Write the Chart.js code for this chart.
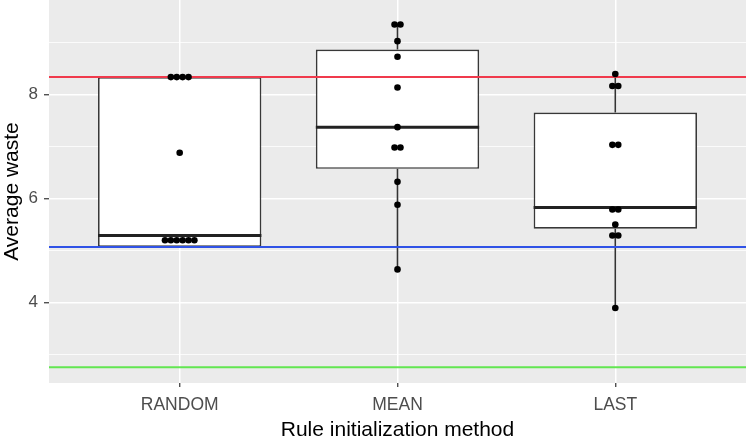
<!DOCTYPE html>
<html><head><meta charset="utf-8">
<script src="https://cdn.jsdelivr.net/npm/chart.js@4.4.1/dist/chart.umd.min.js"></script>
<style>html,body{margin:0;padding:0;background:#fff}canvas{display:block}</style>
</head><body>
<canvas id="c" width="750" height="439"></canvas>
<script>
// ---- data ----
const categories = ['RANDOM', 'MEAN', 'LAST'];
const boxMin    = [5.07, 4.64, 3.90];
const boxQ1     = [5.07, 6.57, 5.42];
const boxMedian = [5.29, 7.37, 5.83];
const boxQ3     = [8.33, 8.86, 7.65];
const boxMax    = [8.33, 9.34, 8.39];
const randomDots = [8.33, 8.33, 8.33, 8.33, 6.88, 5.20, 5.20, 5.20, 5.20, 5.20, 5.20];
const meanDots   = [9.34, 9.34, 9.02, 8.72, 8.13, 7.37, 6.98, 6.98, 6.32, 5.88, 4.64];
const lastDots   = [8.39, 8.16, 8.16, 7.03, 7.03, 5.79, 5.79, 5.50, 5.29, 5.29, 3.90];
const refLineValues = [8.33, 5.07, 2.76];
const refLineColors = ['#F03A4C', '#2F52E6', '#62E651'];
const yMajorTicks = [4, 6, 8];
const yMinorTicks = [3, 5, 7, 9];
const xLimits = [0.4, 3.6];
const yLimits = [2.46, 9.81];

// ---- style constants ----
const BOX_WIDTH = 0.75;      // in category units
const DOT_STEP = 0.027;      // horizontal stacking step in category units
const FONT = "'Liberation Sans', Arial, Helvetica, sans-serif";

// ---- build datasets from the arrays ----
const dotGroups = [randomDots, meanDots, lastDots];
const dotPoints = [];
dotGroups.forEach((vals, gi) => {
  const counts = {};
  vals.forEach(v => { counts[v] = (counts[v] || 0) + 1; });
  const seen = {};
  vals.forEach(v => {
    const n = counts[v];
    const k = seen[v] || 0;
    seen[v] = k + 1;
    dotPoints.push({ x: gi + 1 + (k - (n - 1) / 2) * DOT_STEP, y: v });
  });
});

const boxData = categories.map((c, i) => ({ x: i + 1, y: [boxQ1[i], boxQ3[i]] }));

const medianPoints = [];
categories.forEach((c, i) => {
  medianPoints.push({ x: i + 1 - BOX_WIDTH / 2, y: boxMedian[i] });
  medianPoints.push({ x: i + 1 + BOX_WIDTH / 2, y: boxMedian[i] });
  medianPoints.push({ x: i + 1, y: null });
});

const whiskerPoints = [];
categories.forEach((c, i) => {
  whiskerPoints.push({ x: i + 1, y: boxQ3[i] });
  whiskerPoints.push({ x: i + 1, y: boxMax[i] });
  whiskerPoints.push({ x: i + 1, y: null });
  whiskerPoints.push({ x: i + 1, y: boxQ1[i] });
  whiskerPoints.push({ x: i + 1, y: boxMin[i] });
  whiskerPoints.push({ x: i + 1, y: null });
});

const refDatasets = refLineValues.map((v, i) => ({
  type: 'line',
  data: [{ x: xLimits[0], y: v }, { x: xLimits[1], y: v }],
  borderColor: refLineColors[i],
  borderWidth: 2,
  pointRadius: 0,
  order: 1
}));

const panelBg = {
  id: 'panelBg',
  beforeDraw(chart) {
    const { ctx, chartArea: { left, top, width, height } } = chart;
    ctx.save();
    ctx.fillStyle = '#EBEBEB';
    ctx.fillRect(left, top, width, height);
    ctx.restore();
  }
};

new Chart(document.getElementById('c'), {
  type: 'bar',
  data: {
    datasets: [
      {
        type: 'scatter',
        data: dotPoints,
        backgroundColor: '#000',
        borderWidth: 0,
        pointRadius: 3.3,
        order: 0
      },
      ...refDatasets,
      {
        type: 'line',
        data: medianPoints,
        borderColor: '#222',
        borderWidth: 3,
        pointRadius: 0,
        spanGaps: false,
        order: 2
      },
      {
        type: 'line',
        data: whiskerPoints,
        borderColor: '#333',
        borderWidth: 1.6,
        pointRadius: 0,
        spanGaps: false,
        order: 3
      },
      {
        type: 'bar',
        data: boxData,
        backgroundColor: '#FFFFFF',
        borderColor: '#383838',
        borderWidth: 1.7,
        borderSkipped: false,
        barPercentage: BOX_WIDTH,
        categoryPercentage: 1,
        order: 4
      }
    ]
  },
  options: {
    responsive: false,
    animation: false,
    devicePixelRatio: 1,
    layout: { autoPadding: false, padding: { left: 0, right: 4, top: 0, bottom: 0 } },
    plugins: { legend: { display: false }, tooltip: { enabled: false } },
    scales: {
      x: {
        type: 'linear',
        offset: false,
        min: xLimits[0],
        max: xLimits[1],
        afterBuildTicks: (s) => { s.ticks = categories.map((c, i) => ({ value: i + 1 })); },
        afterFit: (s) => { s.height = 56; s.paddingLeft = 0; s.paddingRight = 0; },
        ticks: {
          callback: (v) => categories[Math.round(v) - 1] || '',
          color: '#4D4D4D',
          font: { family: FONT, size: 17.5 },
          padding: 8,
          maxRotation: 0,
          autoSkip: false
        },
        grid: {
          offset: false,
          color: '#FFFFFF',
          lineWidth: 1.5,
          drawTicks: true,
          tickLength: 4,
          tickColor: '#333',
          tickWidth: 1.2
        },
        border: { display: false },
        title: {
          display: true,
          text: 'Rule initialization method',
          color: '#000',
          font: { family: FONT, size: 21, lineHeight: 0.85 },
          padding: { top: 0, bottom: 0 }
        }
      },
      y: {
        type: 'linear',
        min: yLimits[0],
        max: yLimits[1],
        afterBuildTicks: (s) => {
          s.ticks = yMinorTicks.concat(yMajorTicks).sort((a, b) => a - b).map(v => ({ value: v }));
        },
        afterFit: (s) => { s.width = 49; s.paddingTop = 0; s.paddingBottom = 0; },
        ticks: {
          callback: (v) => yMajorTicks.includes(v) ? String(v) : '',
          color: '#4D4D4D',
          font: { family: FONT, size: 17 },
          padding: 6
        },
        grid: {
          color: '#FFFFFF',
          lineWidth: (ctx) => (ctx.tick && yMajorTicks.includes(ctx.tick.value)) ? 1.5 : 0.8,
          drawTicks: true,
          tickLength: 5,
          tickColor: (ctx) => (ctx.tick && yMajorTicks.includes(ctx.tick.value)) ? '#333' : 'rgba(0,0,0,0)',
          tickWidth: 1.2
        },
        border: { display: false },
        title: {
          display: true,
          text: 'Average waste',
          color: '#000',
          font: { family: FONT, size: 21 },
          padding: { top: 0, bottom: 0 }
        }
      }
    }
  },
  plugins: [panelBg]
});
</script>
</body></html>
